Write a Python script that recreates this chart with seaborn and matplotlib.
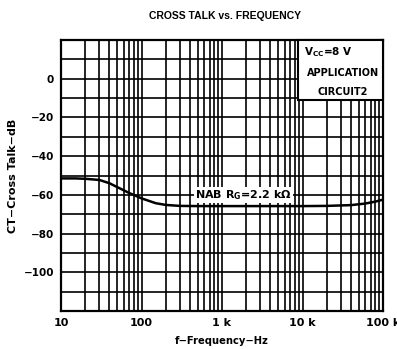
import numpy as np
import pandas as pd
import matplotlib
matplotlib.use("Agg")
import matplotlib.pyplot as plt
from matplotlib.patches import Rectangle
from matplotlib.ticker import FixedLocator, NullFormatter
import seaborn as sns

# Cross talk vs. frequency, NAB equalization, RG = 2.2 kOhm
freq_hz = [10, 15, 20, 30, 40, 50, 70, 100, 150, 200, 300, 500,
           1000, 3000, 10000, 20000, 40000, 60000, 80000, 100000]
cross_talk_db = [-51.5, -51.5, -51.7, -52.3, -54.0, -56.0, -59.0, -61.8,
                 -64.3, -65.2, -65.7, -65.8, -65.8, -65.8, -65.8, -65.7,
                 -65.3, -64.5, -63.5, -62.5]

x_ticks = [10, 100, 1000, 10000, 100000]
x_labels = ["10", "100", "1 k", "10 k", "100 k"]
y_ticks = [0, -20, -40, -60, -80, -100]
y_labels = ["0", "\u221220", "\u221240", "\u221260", "\u221280", "\u2212100"]

sns.set_theme(style="white")
plt.rcParams["font.family"] = ["DejaVu Sans"]
plt.rcParams["font.weight"] = "bold"
for key in ("text.color", "axes.labelcolor", "xtick.color", "ytick.color"):
    plt.rcParams[key] = "black"

df = pd.DataFrame({"f": freq_hz, "ct": cross_talk_db})

fig = plt.figure(figsize=(3.97, 3.49), dpi=100)
ax = fig.add_axes([61 / 397, 1 - 311 / 349, (383 - 61) / 397, (311 - 40) / 349])

sns.lineplot(data=df, x="f", y="ct", ax=ax, color="black", linewidth=1.8, zorder=5)

ax.set_xscale("log")
ax.set_xlim(10, 100000)
ax.set_ylim(-120, 20)

# grid: every 1-2-...-9 per decade, every 10 dB
minor_x = [m * 10 ** d for d in range(1, 5) for m in range(1, 10)] + [100000]
ax.xaxis.set_major_locator(FixedLocator(x_ticks))
ax.xaxis.set_minor_locator(FixedLocator(minor_x))
ax.xaxis.set_minor_formatter(NullFormatter())
ax.set_xticks(x_ticks)
ax.set_xticklabels(x_labels)
ax.set_yticks(y_ticks)
ax.set_yticklabels(y_labels)
ax.yaxis.set_minor_locator(FixedLocator(list(range(-120, 21, 10))))

ax.grid(True, which="both", axis="both", color="black", linewidth=1.2)
ax.tick_params(axis="x", which="both", length=0, labelsize=8, pad=5)
ax.tick_params(axis="y", which="both", length=0, labelsize=7.5, pad=5)
for lbl in ax.get_xticklabels() + ax.get_yticklabels():
    lbl.set_fontweight("bold")

for s in ax.spines.values():
    s.set_color("black")
    s.set_linewidth(1.6)
ax.set_axisbelow(True)

ax.set_xlabel("f\u2212Frequency\u2212Hz", fontsize=7.2, fontweight="bold", labelpad=6)
ax.set_ylabel("CT\u2212Cross Talk\u2212dB", fontsize=8, fontweight="bold")
ax.yaxis.set_label_coords((18 - 61) / 322, 0.5)
fig.text(225 / 397, 1 - 16 / 349, "CROSS TALK vs. FREQUENCY", ha="center", va="center",
         fontsize=7.5, fontweight="bold", family="Liberation Sans")

# curve label
ax.text(1850, -60, "NAB R$_\\mathregular{G}$=2.2 k\u03a9", ha="center", va="center",
        fontsize=8, fontweight="bold", zorder=6,
        bbox=dict(facecolor="white", edgecolor="none", pad=0.8))

# conditions box in the upper right corner
box_x0 = (298 - 61) / (383 - 61)
box_y0 = (311 - 100) / (311 - 40)
ax.add_patch(Rectangle((box_x0, box_y0), 1 - box_x0, 1 - box_y0, transform=ax.transAxes,
                       facecolor="white", edgecolor="black", linewidth=1.5, zorder=7,
                       clip_on=False))
ax.text((304 - 61) / 322, (311 - 52) / 271, "V$_\\mathregular{CC}$=8 V", transform=ax.transAxes,
        ha="left", va="center", fontsize=7.5, fontweight="bold", zorder=8)
ax.text((343 - 61) / 322, (311 - 73) / 271, "APPLICATION", transform=ax.transAxes,
        ha="center", va="center", fontsize=7, fontweight="bold", zorder=8)
ax.text((343 - 61) / 322, (311 - 92) / 271, "CIRCUIT2", transform=ax.transAxes,
        ha="center", va="center", fontsize=7, fontweight="bold", zorder=8)

fig.savefig("out.png", dpi=100, facecolor="white")
